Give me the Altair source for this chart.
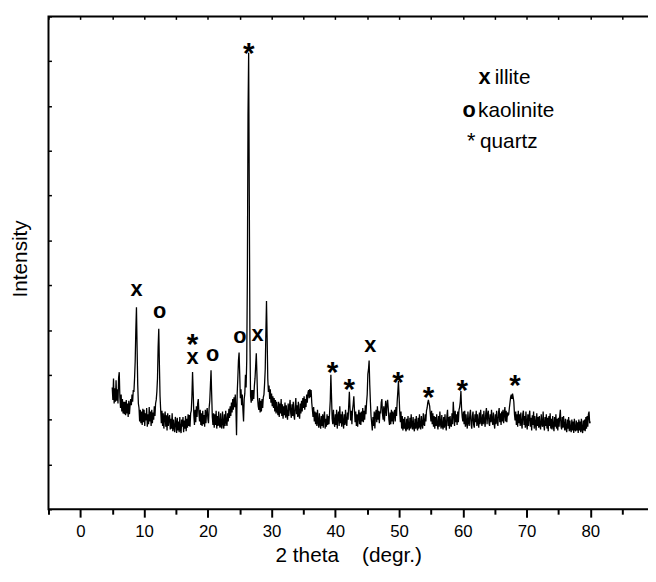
import altair as alt
import pandas as pd

# ---- XRD scan (2 theta from 5.0 deg, 0.1 deg step), intensity ----
scan_start = 5.0
scan_step = 0.1
intensity = [
    272, 244, 292, 236, 270, 240, 288, 242, 268, 236,   # 5
    294, 306, 250, 226, 256, 218, 246, 214, 240, 212,   # 6
    240, 210, 244, 214, 236, 206, 242, 212, 232, 246,   # 7
    232, 256, 240, 266, 262, 292, 330, 400, 451, 360,   # 8
    278, 236, 226, 196, 222, 192, 218, 188, 224, 194,   # 9
    222, 186, 214, 198, 226, 184, 212, 190, 228, 196,   # 10
    218, 186, 222, 192, 216, 200, 230, 208, 236, 244,   # 11
    262, 292, 362, 403, 322, 252, 222, 192, 220, 186,   # 12
    214, 180, 206, 218, 184, 210, 176, 214, 186, 204,   # 13
    210, 178, 202, 180, 214, 174, 200, 182, 172, 206,   # 14
    194, 170, 204, 176, 196, 172, 206, 178, 170, 200,   # 15
    184, 206, 172, 198, 180, 208, 174, 202, 182, 212,   # 16
    186, 210, 184, 214, 220, 252, 306, 262, 210, 188,   # 17
    222, 194, 230, 206, 236, 246, 214, 196, 222, 188,   # 18
    214, 186, 220, 190, 210, 184, 222, 192, 216, 226,   # 19
    202, 192, 226, 242, 276, 310, 256, 206, 188, 214,   # 20
    182, 212, 188, 220, 180, 208, 186, 218, 190, 182,   # 21
    214, 186, 180, 218, 192, 180, 212, 186, 220, 194,   # 22
    186, 214, 196, 224, 204, 230, 208, 238, 216, 246,   # 23
    222, 250, 228, 256, 226, 165, 258, 292, 332, 350,   # 24
    302, 248, 268, 232, 256, 222, 196, 246, 258, 300,   # 25
    272, 332, 520, 880, 1019, 700, 382, 252, 238, 266,  # 26
    242, 266, 246, 276, 292, 320, 348, 302, 248, 230,   # 27
    222, 248, 216, 242, 218, 246, 226, 250, 256, 280,   # 28
    312, 392, 465, 382, 292, 262, 276, 246, 268, 238,   # 29
    258, 230, 252, 226, 248, 218, 244, 214, 240, 220,   # 30
    210, 240, 206, 236, 214, 246, 208, 234, 202, 230,   # 31
    210, 238, 204, 232, 210, 200, 236, 208, 228, 244,   # 32
    214, 204, 234, 208, 240, 210, 200, 230, 248, 212,   # 33
    232, 206, 240, 210, 202, 236, 214, 242, 218, 248,   # 34
    226, 252, 222, 246, 228, 256, 238, 260, 266, 248,   # 35
    268, 250, 266, 238, 222, 206, 228, 196, 218, 190,   # 36
    216, 186, 222, 194, 182, 214, 190, 180, 208, 186,   # 37
    212, 182, 206, 218, 180, 202, 184, 212, 188, 208,   # 38
    190, 216, 242, 300, 252, 202, 190, 222, 194, 184,   # 39
    212, 188, 222, 180, 208, 218, 186, 230, 192, 212,   # 40
    184, 218, 194, 180, 212, 188, 222, 194, 186, 216,   # 41
    200, 232, 262, 226, 198, 220, 190, 222, 234, 252,   # 42
    222, 194, 218, 186, 212, 184, 208, 222, 190, 216,   # 43
    188, 218, 196, 226, 194, 220, 200, 232, 212, 238,   # 44
    256, 302, 312, 332, 278, 240, 208, 192, 176, 206,   # 45
    186, 218, 180, 212, 222, 194, 230, 200, 220, 192,   # 46
    218, 214, 238, 246, 212, 200, 230, 196, 222, 242,   # 47
    208, 232, 244, 226, 200, 188, 216, 190, 222, 196,   # 48
    218, 190, 212, 222, 196, 228, 208, 240, 262, 286,   # 49
    252, 218, 194, 218, 180, 208, 176, 202, 180, 206,   # 50
    180, 174, 202, 178, 208, 184, 176, 204, 180, 212,   # 51
    186, 178, 206, 182, 174, 202, 180, 208, 184, 176,   # 52
    204, 180, 212, 186, 178, 208, 188, 180, 214, 190,   # 53
    186, 212, 196, 220, 226, 238, 244, 236, 230, 212,   # 54
    196, 220, 190, 214, 184, 208, 180, 206, 186, 212,   # 55
    188, 178, 208, 184, 218, 190, 180, 210, 186, 178,   # 56
    206, 182, 212, 188, 176, 208, 222, 186, 206, 180,   # 57
    208, 188, 184, 214, 190, 240, 212, 186, 220, 194,   # 58
    212, 188, 218, 194, 222, 228, 240, 264, 226, 206,   # 59
    196, 218, 190, 220, 184, 212, 192, 180, 218, 194,   # 60
    186, 212, 222, 190, 180, 208, 218, 188, 182, 212,   # 61
    194, 220, 186, 212, 192, 182, 216, 190, 222, 196,   # 62
    186, 212, 190, 220, 196, 184, 214, 226, 190, 212,   # 63
    220, 192, 186, 212, 194, 222, 198, 188, 216, 192,   # 64
    180, 212, 190, 220, 196, 186, 216, 226, 194, 214,   # 65
    188, 218, 196, 222, 192, 214, 228, 196, 220, 194,   # 66
    216, 210, 212, 226, 238, 250, 256, 246, 258, 250,   # 67
    240, 212, 198, 218, 188, 212, 184, 220, 192, 212,   # 68
    186, 216, 192, 180, 212, 220, 188, 208, 182, 218,   # 69
    190, 178, 212, 186, 208, 220, 184, 204, 176, 210,   # 70
    188, 218, 180, 208, 190, 176, 214, 186, 206, 182,   # 71
    208, 186, 178, 212, 190, 184, 218, 188, 176, 206,   # 72
    186, 212, 180, 204, 174, 208, 186, 214, 180, 202,   # 73
    178, 208, 186, 174, 206, 184, 212, 180, 202, 176,   # 74
    204, 184, 208, 222, 186, 178, 206, 182, 208, 186,   # 75
    176, 202, 180, 172, 200, 180, 206, 174, 198, 178,   # 76
    172, 200, 176, 196, 170, 202, 178, 174, 198, 176,   # 77
    194, 170, 200, 176, 196, 172, 202, 178, 170, 198,   # 78
    176, 200, 174, 206, 180, 208, 184, 212, 218, 192,   # 79
    196,                                                # 80
]
two_theta = [round(scan_start + i * scan_step, 1) for i in range(len(intensity))]

# ---- peak labels ----
peak_symbol = ["x", "o", "x", "o", "o", "x", "x"]
peak_theta = [8.83, 12.44, 17.6, 20.76, 25.04, 27.78, 45.49]
peak_level = [492, 442, 340, 347, 387, 391, 367]

quartz_theta = [17.6, 26.43, 39.55, 42.19, 49.83, 54.63, 59.9, 68.17]
quartz_level = [384, 1034, 321, 283, 300, 266, 282, 293]

# ---- in-plot key ----
key_symbol = ["x", "o"]
key_symbol_theta = [64.35, 62.05]
key_symbol_level = [949, 876]
key_star_theta = [62.0]
key_star_level = [806]
key_name = ["illite", "kaolinite", "quartz"]
key_name_theta = [65.0, 62.4, 62.7]
key_name_level = [949, 876, 806]

# ---- axes ----
x_range = [-5, 89.05]
y_range = [0, 1100]
x_ticks = [-5, 0, 5, 10, 15, 20, 25, 30, 35, 40, 45, 50, 55, 60, 65, 70, 75, 80, 85]
y_ticks = [0, 100, 200, 300, 400, 500, 600, 700, 800, 900, 1000, 1100]

FONT = "Liberation Sans"
xscale = alt.Scale(domain=x_range, nice=False, zero=False)
yscale = alt.Scale(domain=y_range, nice=False, zero=False)

scan_df = pd.DataFrame({"two_theta": two_theta, "intensity": intensity})
peak_df = pd.DataFrame({"s": peak_symbol, "t": peak_theta, "v": peak_level})
quartz_df = pd.DataFrame({"s": ["*"] * len(quartz_theta), "t": quartz_theta, "v": quartz_level})
keysym_df = pd.DataFrame({"s": key_symbol, "t": key_symbol_theta, "v": key_symbol_level})
keystar_df = pd.DataFrame({"s": ["*"], "t": key_star_theta, "v": key_star_level})
keyname_df = pd.DataFrame({"s": key_name, "t": key_name_theta, "v": key_name_level})
frame_df = pd.DataFrame({"x0": [x_range[0]], "x1": [x_range[1] + 2],
                         "y0": [y_range[0]], "y1": [y_range[1]]})

trace = alt.Chart(scan_df).mark_line(color="black", strokeWidth=1.3).encode(
    x=alt.X("two_theta:Q", scale=xscale, axis=alt.Axis(
        values=x_ticks,
        labelExpr="datum.value >= 0 && datum.value % 10 === 0 ? datum.label : ''",
        tickSize={"condition": {"test": "datum.value % 10 === 0", "value": 8}, "value": 5},
        tickWidth=2, tickColor="black", domain=False, grid=False,
        labelFont=FONT, labelFontSize=17, labelColor="black", labelPadding=7,
        title="2 theta\u00a0\u00a0\u00a0\u00a0(degr.)", titleFont=FONT, titleFontSize=21,
        titleFontWeight="normal", titleColor="black", titleBaseline="alphabetic",
        titleY=53,
    )),
    y=alt.Y("intensity:Q", scale=yscale, axis=alt.Axis(
        values=y_ticks, labels=False, tickSize=3, offset=-3, tickWidth=1.5,
        tickColor="black", domain=False, grid=False,
        title="Intensity", titleFont=FONT, titleFontSize=21, titleFontWeight="normal",
        titleColor="black", titleBaseline="alphabetic", titleX=-25, titleY=245,
    )),
)

frame = alt.Chart(frame_df).mark_rect(fillOpacity=0, stroke="black", strokeWidth=2,
                                      clip=False).encode(
    x=alt.X("x0:Q", scale=xscale, axis=None),
    x2="x1:Q",
    y=alt.Y("y0:Q", scale=yscale, axis=None),
    y2="y1:Q",
)

def txt(df, **kw):
    return alt.Chart(df).mark_text(font=FONT, color="black", **kw).encode(
        x=alt.X("t:Q", scale=xscale, axis=None),
        y=alt.Y("v:Q", scale=yscale, axis=None),
        text="s:N",
    )

peaks = txt(peak_df, fontSize=22, fontWeight="bold", baseline="middle", align="center")
stars = txt(quartz_df, fontSize=30, fontWeight="bold", baseline="middle", align="center", dy=8)
key_sym = txt(keysym_df, fontSize=22, fontWeight="bold", baseline="alphabetic", align="right")
key_star = txt(keystar_df, fontSize=22, baseline="alphabetic", align="right")

key_names = alt.Chart(keyname_df).mark_text(font=FONT, color="black", fontSize=21,
                                             baseline="alphabetic", align="left").encode(
    x=alt.X("t:Q", scale=xscale, axis=alt.Axis(
        orient="top", values=x_ticks, labels=False, tickSize=3, offset=-3,
        tickWidth=1.5, tickColor="black", domain=False, grid=False, title=None)),
    y=alt.Y("v:Q", scale=yscale, axis=None),
    text="s:N",
)

chart = alt.layer(frame, trace, peaks, stars, key_sym, key_star, key_names).resolve_axis(
    x="independent", y="independent"
).properties(
    width=607, height=499,
    background="white",
    autosize=alt.AutoSizeParams(type="none"),
    padding={"left": 41, "top": 5, "right": 0, "bottom": 57},
).configure_view(strokeWidth=0)

chart.save("out.html", embed_options={"renderer": "svg", "actions": False})
